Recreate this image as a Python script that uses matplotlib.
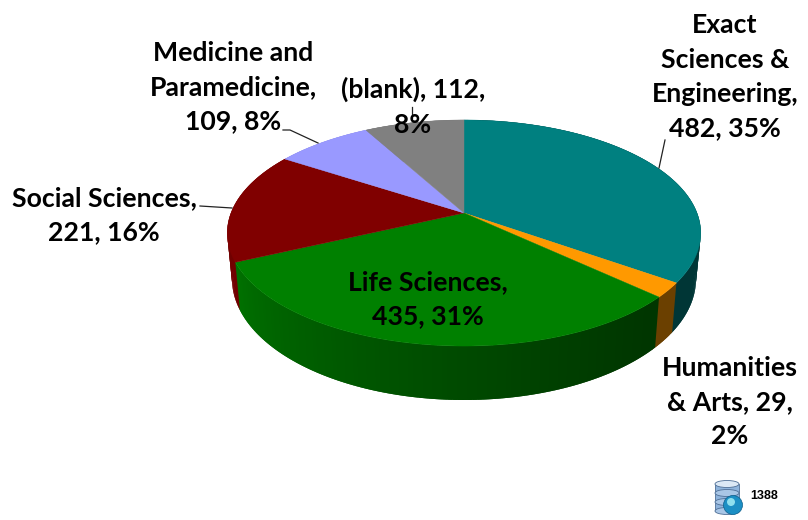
import numpy as np
import matplotlib
matplotlib.use("Agg")
import matplotlib.pyplot as plt
from matplotlib.collections import PolyCollection
from matplotlib.patches import Circle, Ellipse, Rectangle

categories = ["Exact Sciences & Engineering", "Humanities & Arts", "Life Sciences",
              "Social Sciences", "Medicine and Paramedicine", "(blank)"]
values = [482, 29, 435, 221, 109, 112]
labels = ["Exact\nSciences &\nEngineering,\n482, 35%",
          "Humanities\n& Arts, 29,\n2%",
          "Life Sciences,\n435, 31%",
          "Social Sciences,\n221, 16%",
          "Medicine and\nParamedicine,\n109, 8%",
          "(blank), 112,\n8%"]
colors = ["#008080", "#ff9900", "#008000", "#800000", "#9999ff", "#808080"]
year = "1388"

# pie geometry in figure pixels, fake perspective like the 3D pie in Excel
CX, CY = 464, 213
RX, RY = 233, 109.5
PERSP = 0.177
DEPTH = 44.4
FONT = ["Lato", "DejaVu Sans"]


def project(theta, r=1.0, z=0.0):
    x = r * np.sin(theta)
    y = r * np.cos(theta)
    w = 1 + PERSP * y
    k = 1 - 0.02 * z
    return CX + k * RX * x / w, CY - RY * y / w + z * DEPTH / w


def side_shade(deg):
    # brighter towards the left of the rim, darkest around 130 deg
    return 0.42 + 0.46 * np.clip((deg - 135) / 110, 0, 1) ** 1.2


fig = plt.figure(figsize=(8.08, 5.20), dpi=100, facecolor="white")
ax = fig.add_axes([0, 0, 1, 1])
ax.set_xlim(0, 808)
ax.set_ylim(520, 0)
ax.axis("off")

edges = np.concatenate([[0], np.cumsum(values)]) / np.sum(values) * 2 * np.pi

# rim first; each strip runs a bit into the next one so no seams show
strips, strip_cols = [], []
for i, col in enumerate(colors):
    rgb = np.array(matplotlib.colors.to_rgb(col))
    t = np.linspace(edges[i], edges[i + 1], max(3, int(np.degrees(edges[i + 1] - edges[i]))))
    step = t[1] - t[0]
    for a, b in zip(t[:-1], t[1:]):
        tt = np.linspace(a, b + step, 4)
        xt, yt = project(tt)
        xb, yb = project(tt[::-1], z=1)
        strips.append(np.column_stack([np.r_[xt, xb], np.r_[yt, yb]]))
        strip_cols.append(rgb * side_shade(np.degrees((a + b) / 2)))
ax.add_collection(PolyCollection(strips, facecolors=strip_cols, edgecolors="none", zorder=2))

# top face
for i, col in enumerate(colors):
    t = np.linspace(edges[i], edges[i + 1], 120)
    xs, ys = project(t)
    ax.fill(np.r_[CX, xs], np.r_[CY, ys], color=col, lw=0.3, zorder=3)

# leader lines
leaders = [([665, 659], [140, 168]),
           ([283, 290, 318], [130, 130, 143]),
           ([200, 232], [206, 208]),
           ([412, 412], [107, 118])]
for lx, ly in leaders:
    ax.plot(lx, ly, color="#222222", lw=0.9, zorder=4)

# data labels
label_pos = [(725, 77), (730, 402), (428, 299), (104, 215), (233, 87), (413, 107)]
for txt, (x, y) in zip(labels, label_pos):
    ax.text(x, y, txt, ha="center", va="center", fontsize=19.2, fontweight="bold",
            family=FONT, color="black", linespacing=1.52, zorder=5)

# little database icon + year
ax.add_patch(Rectangle((715, 484), 24, 27, fc="#8fb4dc", ec="#4f6f96", lw=0.6, zorder=6))
for yy in (511, 502, 493):
    ax.add_patch(Ellipse((727, yy), 24, 7, fc="#a9c6e6", ec="#4f6f96", lw=0.6, zorder=6))
ax.add_patch(Ellipse((727, 484), 24, 7, fc="#dbe8f5", ec="#4f6f96", lw=0.6, zorder=6))
ax.add_patch(Circle((733, 505), 9.5, fc="#1c8fc4", ec="#0d5f8c", lw=0.5, zorder=7))
ax.add_patch(Circle((731, 502), 4, fc="#8fe0ee", ec="none", zorder=8))
ax.text(750, 496, year, ha="left", va="center", fontsize=9, fontweight="bold",
        family="Liberation Sans", color="black", zorder=6)

fig.savefig("out.png", dpi=100, facecolor="white")
plt.close(fig)
